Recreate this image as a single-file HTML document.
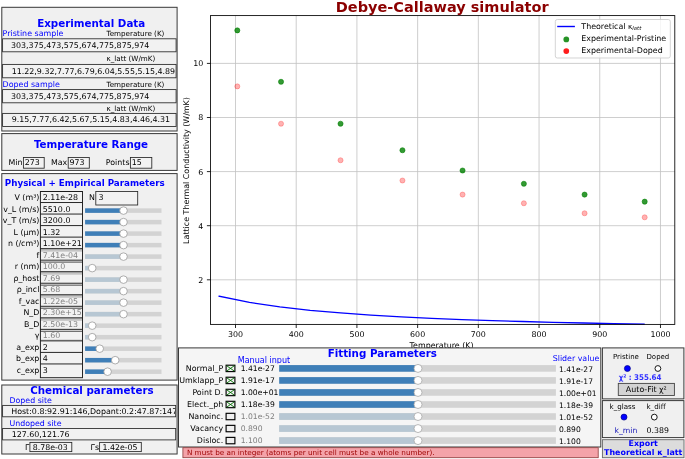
<!DOCTYPE html>
<html lang="en"><head><meta charset="utf-8"><title>Debye-Callaway simulator</title>
<style>
html,body{margin:0;padding:0;background:#fff;overflow:hidden}
svg{display:block;font-family:'DejaVu Sans','Liberation Sans',sans-serif;}
text{white-space:pre}
</style></head><body>
<svg width="685" height="459" viewBox="0 0 685 459" font-family="'DejaVu Sans','Liberation Sans',sans-serif">
<rect x="210.50" y="15.60" width="464.30" height="308.80" fill="#fff" stroke="none" stroke-width="1" />
<line x1="235.50" y1="15.60" x2="235.50" y2="324.40" stroke="#c2c2c2" stroke-width="0.8" />
<line x1="296.21" y1="15.60" x2="296.21" y2="324.40" stroke="#c2c2c2" stroke-width="0.8" />
<line x1="356.92" y1="15.60" x2="356.92" y2="324.40" stroke="#c2c2c2" stroke-width="0.8" />
<line x1="417.63" y1="15.60" x2="417.63" y2="324.40" stroke="#c2c2c2" stroke-width="0.8" />
<line x1="478.34" y1="15.60" x2="478.34" y2="324.40" stroke="#c2c2c2" stroke-width="0.8" />
<line x1="539.05" y1="15.60" x2="539.05" y2="324.40" stroke="#c2c2c2" stroke-width="0.8" />
<line x1="599.76" y1="15.60" x2="599.76" y2="324.40" stroke="#c2c2c2" stroke-width="0.8" />
<line x1="660.47" y1="15.60" x2="660.47" y2="324.40" stroke="#c2c2c2" stroke-width="0.8" />
<line x1="210.50" y1="279.80" x2="674.80" y2="279.80" stroke="#c2c2c2" stroke-width="0.8" />
<line x1="210.50" y1="225.70" x2="674.80" y2="225.70" stroke="#c2c2c2" stroke-width="0.8" />
<line x1="210.50" y1="171.60" x2="674.80" y2="171.60" stroke="#c2c2c2" stroke-width="0.8" />
<line x1="210.50" y1="117.50" x2="674.80" y2="117.50" stroke="#c2c2c2" stroke-width="0.8" />
<line x1="210.50" y1="63.40" x2="674.80" y2="63.40" stroke="#c2c2c2" stroke-width="0.8" />
<polyline points="219.11,296.17 249.46,302.38 279.82,306.88 310.17,310.28 340.53,312.94 370.88,315.08 401.24,316.83 431.59,318.29 461.95,319.53 492.30,320.59 522.66,321.51 553.01,322.31 583.37,323.02 613.72,323.65 644.08,324.21" fill="none" stroke="#0000ff" stroke-width="1.3" stroke-linejoin="round" stroke-linecap="square"/>
<circle cx="237.32" cy="30.40" r="2.55" fill="#008000" stroke="#008000" stroke-width="0.7" fill-opacity="0.8" stroke-opacity="0.8"/>
<circle cx="281.03" cy="81.79" r="2.55" fill="#008000" stroke="#008000" stroke-width="0.7" fill-opacity="0.8" stroke-opacity="0.8"/>
<circle cx="340.53" cy="123.72" r="2.55" fill="#008000" stroke="#008000" stroke-width="0.7" fill-opacity="0.8" stroke-opacity="0.8"/>
<circle cx="402.45" cy="150.23" r="2.55" fill="#008000" stroke="#008000" stroke-width="0.7" fill-opacity="0.8" stroke-opacity="0.8"/>
<circle cx="462.56" cy="170.52" r="2.55" fill="#008000" stroke="#008000" stroke-width="0.7" fill-opacity="0.8" stroke-opacity="0.8"/>
<circle cx="523.87" cy="183.77" r="2.55" fill="#008000" stroke="#008000" stroke-width="0.7" fill-opacity="0.8" stroke-opacity="0.8"/>
<circle cx="584.58" cy="194.59" r="2.55" fill="#008000" stroke="#008000" stroke-width="0.7" fill-opacity="0.8" stroke-opacity="0.8"/>
<circle cx="644.69" cy="201.63" r="2.55" fill="#008000" stroke="#008000" stroke-width="0.7" fill-opacity="0.8" stroke-opacity="0.8"/>
<circle cx="237.32" cy="86.39" r="2.55" fill="#ff0000" stroke="#ff0000" stroke-width="0.8" fill-opacity="0.3" stroke-opacity="0.3"/>
<circle cx="281.03" cy="123.72" r="2.55" fill="#ff0000" stroke="#ff0000" stroke-width="0.8" fill-opacity="0.3" stroke-opacity="0.3"/>
<circle cx="340.53" cy="160.24" r="2.55" fill="#ff0000" stroke="#ff0000" stroke-width="0.8" fill-opacity="0.3" stroke-opacity="0.3"/>
<circle cx="402.45" cy="180.53" r="2.55" fill="#ff0000" stroke="#ff0000" stroke-width="0.8" fill-opacity="0.3" stroke-opacity="0.3"/>
<circle cx="462.56" cy="194.59" r="2.55" fill="#ff0000" stroke="#ff0000" stroke-width="0.8" fill-opacity="0.3" stroke-opacity="0.3"/>
<circle cx="523.87" cy="203.25" r="2.55" fill="#ff0000" stroke="#ff0000" stroke-width="0.8" fill-opacity="0.3" stroke-opacity="0.3"/>
<circle cx="584.58" cy="213.26" r="2.55" fill="#ff0000" stroke="#ff0000" stroke-width="0.8" fill-opacity="0.3" stroke-opacity="0.3"/>
<circle cx="644.69" cy="217.31" r="2.55" fill="#ff0000" stroke="#ff0000" stroke-width="0.8" fill-opacity="0.3" stroke-opacity="0.3"/>
<rect x="210.50" y="15.60" width="464.30" height="308.80" fill="none" stroke="#000" stroke-width="0.85" />
<line x1="235.50" y1="324.40" x2="235.50" y2="328.00" stroke="#000" stroke-width="0.85" />
<text x="235.50" y="337.00" font-size="7.9" fill="#000" text-anchor="middle" >300</text>
<line x1="296.21" y1="324.40" x2="296.21" y2="328.00" stroke="#000" stroke-width="0.85" />
<text x="296.21" y="337.00" font-size="7.9" fill="#000" text-anchor="middle" >400</text>
<line x1="356.92" y1="324.40" x2="356.92" y2="328.00" stroke="#000" stroke-width="0.85" />
<text x="356.92" y="337.00" font-size="7.9" fill="#000" text-anchor="middle" >500</text>
<line x1="417.63" y1="324.40" x2="417.63" y2="328.00" stroke="#000" stroke-width="0.85" />
<text x="417.63" y="337.00" font-size="7.9" fill="#000" text-anchor="middle" >600</text>
<line x1="478.34" y1="324.40" x2="478.34" y2="328.00" stroke="#000" stroke-width="0.85" />
<text x="478.34" y="337.00" font-size="7.9" fill="#000" text-anchor="middle" >700</text>
<line x1="539.05" y1="324.40" x2="539.05" y2="328.00" stroke="#000" stroke-width="0.85" />
<text x="539.05" y="337.00" font-size="7.9" fill="#000" text-anchor="middle" >800</text>
<line x1="599.76" y1="324.40" x2="599.76" y2="328.00" stroke="#000" stroke-width="0.85" />
<text x="599.76" y="337.00" font-size="7.9" fill="#000" text-anchor="middle" >900</text>
<line x1="660.47" y1="324.40" x2="660.47" y2="328.00" stroke="#000" stroke-width="0.85" />
<text x="660.47" y="337.00" font-size="7.9" fill="#000" text-anchor="middle" >1000</text>
<line x1="206.90" y1="279.80" x2="210.50" y2="279.80" stroke="#000" stroke-width="0.85" />
<text x="203.30" y="282.70" font-size="7.9" fill="#000" text-anchor="end" >2</text>
<line x1="206.90" y1="225.70" x2="210.50" y2="225.70" stroke="#000" stroke-width="0.85" />
<text x="203.30" y="228.60" font-size="7.9" fill="#000" text-anchor="end" >4</text>
<line x1="206.90" y1="171.60" x2="210.50" y2="171.60" stroke="#000" stroke-width="0.85" />
<text x="203.30" y="174.50" font-size="7.9" fill="#000" text-anchor="end" >6</text>
<line x1="206.90" y1="117.50" x2="210.50" y2="117.50" stroke="#000" stroke-width="0.85" />
<text x="203.30" y="120.40" font-size="7.9" fill="#000" text-anchor="end" >8</text>
<line x1="206.90" y1="63.40" x2="210.50" y2="63.40" stroke="#000" stroke-width="0.85" />
<text x="203.30" y="66.30" font-size="7.9" fill="#000" text-anchor="end" >10</text>
<text x="442.20" y="11.90" font-size="14.5" fill="#8b0000" font-weight="bold" text-anchor="middle" >Debye-Callaway simulator</text>
<text x="441.60" y="347.90" font-size="7.92" fill="#000" text-anchor="middle" >Temperature (K)</text>
<text transform="translate(189.0,170.5) rotate(-90)" font-size="7.95" text-anchor="middle">Lattice Thermal Conductivity (W/mK)</text>
<rect x="555.30" y="19.50" width="115.00" height="38.50" fill="#fff" stroke="#cccccc" stroke-width="0.85" rx="2" fill-opacity="0.8"/>
<line x1="557.20" y1="26.50" x2="574.90" y2="26.50" stroke="#0000ff" stroke-width="1.4" />
<circle cx="566.30" cy="39.40" r="2.85" fill="#008000" stroke="none" stroke-width="1" fill-opacity="0.85"/>
<circle cx="566.30" cy="51.10" r="2.85" fill="#ff1010" stroke="none" stroke-width="1" fill-opacity="0.95"/>
<text x="581.3" y="29.1" font-size="7.92">Theoretical <tspan font-size="7.4">κ</tspan><tspan font-size="5.3" dy="0.5" font-style="italic">latt</tspan></text>
<text x="581.30" y="40.60" font-size="7.92" fill="#000" >Experimental-Pristine</text>
<text x="581.30" y="52.60" font-size="7.92" fill="#000" >Experimental-Doped</text>
<rect x="1.80" y="7.30" width="175.30" height="123.70" fill="#f0f0f0" stroke="#383838" stroke-width="1.0" />
<text x="37.20" y="27.00" font-size="10.3" fill="#0000ff" font-weight="bold" >Experimental Data</text>
<text x="2.60" y="36.10" font-size="7.93" fill="#0000ff" >Pristine sample</text>
<text x="106.50" y="36.10" font-size="7.17" fill="#000" >Temperature (K)</text>
<rect x="2.60" y="38.80" width="173.50" height="13.00" fill="#f2f2f2" stroke="#262626" stroke-width="0.85" />
<text x="11.00" y="48.00" font-size="7.92" fill="#000" >303,375,473,575,674,775,875,974</text>
<text x="106.50" y="61.00" font-size="7.17" fill="#000" >κ_latt (W/mK)</text>
<clipPath id="c1"><rect x="2.6" y="60" width="173.2" height="70"/></clipPath>
<rect x="2.60" y="64.40" width="173.50" height="13.40" fill="#f2f2f2" stroke="#262626" stroke-width="0.85" />
<text x="11.70" y="73.90" font-size="7.92" fill="#000" clip-path="url(#c1)">11.22,9.32,7.77,6.79,6.04,5.55,5.15,4.89</text>
<text x="2.60" y="87.40" font-size="7.93" fill="#0000ff" >Doped sample</text>
<text x="106.50" y="87.40" font-size="7.17" fill="#000" >Temperature (K)</text>
<rect x="2.60" y="89.60" width="173.50" height="13.20" fill="#f2f2f2" stroke="#262626" stroke-width="0.85" />
<text x="11.00" y="99.10" font-size="7.92" fill="#000" >303,375,473,575,674,775,875,974</text>
<text x="106.50" y="110.80" font-size="7.17" fill="#000" >κ_latt (W/mK)</text>
<rect x="2.60" y="113.40" width="173.50" height="13.10" fill="#f2f2f2" stroke="#262626" stroke-width="0.85" />
<text x="11.70" y="122.00" font-size="7.92" fill="#000" >9.15,7.77,6.42,5.67,5.15,4.83,4.46,4.31</text>
<rect x="1.80" y="133.60" width="175.30" height="36.80" fill="#f0f0f0" stroke="#383838" stroke-width="1.0" />
<text x="33.90" y="147.70" font-size="10.3" fill="#0000ff" font-weight="bold" >Temperature Range</text>
<text x="22.50" y="164.70" font-size="7.9" fill="#000" text-anchor="end" >Min</text>
<rect x="23.40" y="157.50" width="20.80" height="10.70" fill="#f2f2f2" stroke="#262626" stroke-width="0.85" />
<text x="24.70" y="165.20" font-size="7.9" fill="#000" >273</text>
<text x="67.30" y="164.70" font-size="7.9" fill="#000" text-anchor="end" >Max</text>
<rect x="68.20" y="157.50" width="21.10" height="10.70" fill="#f2f2f2" stroke="#262626" stroke-width="0.85" />
<text x="69.50" y="165.20" font-size="7.9" fill="#000" >973</text>
<text x="129.50" y="164.70" font-size="7.9" fill="#000" text-anchor="end" >Points</text>
<rect x="130.40" y="157.50" width="21.40" height="10.70" fill="#f2f2f2" stroke="#262626" stroke-width="0.85" />
<text x="131.70" y="165.20" font-size="7.9" fill="#000" >15</text>
<rect x="1.80" y="173.60" width="175.30" height="206.50" fill="#f0f0f0" stroke="#383838" stroke-width="1.0" />
<text x="4.80" y="185.80" font-size="8.75" fill="#0000ff" font-weight="bold" >Physical + Empirical Parameters</text>
<clipPath id="c3"><rect x="40.4" y="190" width="41.8" height="190"/></clipPath>
<rect x="40.40" y="191.50" width="42.10" height="186.20" fill="#f2f2f2" stroke="none" stroke-width="1" />
<text x="39.40" y="200.00" font-size="7.9" fill="#000" text-anchor="end" >V (m³)</text>
<text x="42.80" y="200.00" font-size="7.9" fill="#000" clip-path="url(#c3)">2.11e-28</text>
<line x1="40.40" y1="191.50" x2="82.50" y2="191.50" stroke="#1c1c1c" stroke-width="0.95" />
<text x="39.40" y="211.53" font-size="7.9" fill="#000" text-anchor="end" >v_L (m/s)</text>
<text x="42.80" y="211.53" font-size="7.9" fill="#000" clip-path="url(#c3)">5510.0</text>
<line x1="40.40" y1="202.53" x2="82.50" y2="202.53" stroke="#1c1c1c" stroke-width="0.95" />
<rect x="85.10" y="208.35" width="76.40" height="4.50" fill="#d3d3d3" stroke="none" stroke-width="1" />
<rect x="85.10" y="208.35" width="38.40" height="4.50" fill="#3f7fb8" stroke="none" stroke-width="1" />
<circle cx="123.50" cy="210.60" r="3.80" fill="#fff" stroke="#9a9a9a" stroke-width="0.8" />
<text x="39.40" y="223.06" font-size="7.9" fill="#000" text-anchor="end" >v_T (m/s)</text>
<text x="42.80" y="223.06" font-size="7.9" fill="#000" clip-path="url(#c3)">3200.0</text>
<line x1="40.40" y1="214.06" x2="82.50" y2="214.06" stroke="#1c1c1c" stroke-width="0.95" />
<rect x="85.10" y="219.86" width="76.40" height="4.50" fill="#d3d3d3" stroke="none" stroke-width="1" />
<rect x="85.10" y="219.86" width="38.40" height="4.50" fill="#3f7fb8" stroke="none" stroke-width="1" />
<circle cx="123.50" cy="222.11" r="3.80" fill="#fff" stroke="#9a9a9a" stroke-width="0.8" />
<text x="39.40" y="234.59" font-size="7.9" fill="#000" text-anchor="end" >L (µm)</text>
<text x="42.80" y="234.59" font-size="7.9" fill="#000" clip-path="url(#c3)">1.32</text>
<line x1="40.40" y1="225.59" x2="82.50" y2="225.59" stroke="#1c1c1c" stroke-width="0.95" />
<rect x="85.10" y="231.36" width="76.40" height="4.50" fill="#d3d3d3" stroke="none" stroke-width="1" />
<rect x="85.10" y="231.36" width="38.40" height="4.50" fill="#3f7fb8" stroke="none" stroke-width="1" />
<circle cx="123.50" cy="233.61" r="3.80" fill="#fff" stroke="#9a9a9a" stroke-width="0.8" />
<text x="39.40" y="246.12" font-size="7.9" fill="#000" text-anchor="end" >n (/cm³)</text>
<text x="42.80" y="246.12" font-size="7.9" fill="#000" clip-path="url(#c3)">1.10e+21</text>
<line x1="40.40" y1="237.12" x2="82.50" y2="237.12" stroke="#1c1c1c" stroke-width="0.95" />
<rect x="85.10" y="242.87" width="76.40" height="4.50" fill="#d3d3d3" stroke="none" stroke-width="1" />
<rect x="85.10" y="242.87" width="38.40" height="4.50" fill="#3f7fb8" stroke="none" stroke-width="1" />
<circle cx="123.50" cy="245.12" r="3.80" fill="#fff" stroke="#9a9a9a" stroke-width="0.8" />
<text x="39.40" y="257.65" font-size="7.9" fill="#000" text-anchor="end" >f</text>
<rect x="40.40" y="248.65" width="42.10" height="3.00" fill="#c4c4c4" stroke="none" stroke-width="1" />
<text x="42.80" y="257.65" font-size="7.9" fill="#808080" clip-path="url(#c3)">7.41e-04</text>
<line x1="40.40" y1="248.65" x2="82.50" y2="248.65" stroke="#1c1c1c" stroke-width="0.95" />
<rect x="85.10" y="254.38" width="76.40" height="4.50" fill="#d3d3d3" stroke="none" stroke-width="1" />
<rect x="85.10" y="254.38" width="38.40" height="4.50" fill="#b7c7d3" stroke="none" stroke-width="1" />
<circle cx="123.50" cy="256.63" r="3.80" fill="#fff" stroke="#9a9a9a" stroke-width="0.8" />
<text x="39.40" y="269.18" font-size="7.9" fill="#000" text-anchor="end" >r (nm)</text>
<rect x="40.40" y="260.18" width="42.10" height="2.00" fill="#f8f8f8" stroke="none" stroke-width="1" />
<line x1="40.40" y1="262.08" x2="82.50" y2="262.08" stroke="#1c1c1c" stroke-width="0.8" />
<text x="42.80" y="269.18" font-size="7.9" fill="#808080" clip-path="url(#c3)">100.0</text>
<line x1="40.40" y1="260.18" x2="82.50" y2="260.18" stroke="#1c1c1c" stroke-width="0.95" />
<rect x="85.10" y="265.88" width="76.40" height="4.50" fill="#d3d3d3" stroke="none" stroke-width="1" />
<rect x="85.10" y="265.88" width="7.10" height="4.50" fill="#b7c7d3" stroke="none" stroke-width="1" />
<circle cx="92.20" cy="268.13" r="3.80" fill="#fff" stroke="#9a9a9a" stroke-width="0.8" />
<text x="39.40" y="280.71" font-size="7.9" fill="#000" text-anchor="end" >ρ_host</text>
<rect x="40.40" y="271.71" width="42.10" height="3.00" fill="#c4c4c4" stroke="none" stroke-width="1" />
<text x="42.80" y="280.71" font-size="7.9" fill="#808080" clip-path="url(#c3)">7.69</text>
<line x1="40.40" y1="271.71" x2="82.50" y2="271.71" stroke="#1c1c1c" stroke-width="0.95" />
<rect x="85.10" y="277.39" width="76.40" height="4.50" fill="#d3d3d3" stroke="none" stroke-width="1" />
<rect x="85.10" y="277.39" width="38.40" height="4.50" fill="#b7c7d3" stroke="none" stroke-width="1" />
<circle cx="123.50" cy="279.64" r="3.80" fill="#fff" stroke="#9a9a9a" stroke-width="0.8" />
<text x="39.40" y="292.24" font-size="7.9" fill="#000" text-anchor="end" >ρ_incl</text>
<rect x="40.40" y="283.24" width="42.10" height="2.00" fill="#f8f8f8" stroke="none" stroke-width="1" />
<line x1="40.40" y1="285.14" x2="82.50" y2="285.14" stroke="#1c1c1c" stroke-width="0.8" />
<text x="42.80" y="292.24" font-size="7.9" fill="#808080" clip-path="url(#c3)">5.68</text>
<line x1="40.40" y1="283.24" x2="82.50" y2="283.24" stroke="#1c1c1c" stroke-width="0.95" />
<rect x="85.10" y="288.90" width="76.40" height="4.50" fill="#d3d3d3" stroke="none" stroke-width="1" />
<rect x="85.10" y="288.90" width="38.40" height="4.50" fill="#b7c7d3" stroke="none" stroke-width="1" />
<circle cx="123.50" cy="291.15" r="3.80" fill="#fff" stroke="#9a9a9a" stroke-width="0.8" />
<text x="39.40" y="303.77" font-size="7.9" fill="#000" text-anchor="end" >f_vac</text>
<rect x="40.40" y="294.77" width="42.10" height="3.00" fill="#c4c4c4" stroke="none" stroke-width="1" />
<text x="42.80" y="303.77" font-size="7.9" fill="#808080" clip-path="url(#c3)">1.22e-05</text>
<line x1="40.40" y1="294.77" x2="82.50" y2="294.77" stroke="#1c1c1c" stroke-width="0.95" />
<rect x="85.10" y="300.41" width="76.40" height="4.50" fill="#d3d3d3" stroke="none" stroke-width="1" />
<rect x="85.10" y="300.41" width="38.40" height="4.50" fill="#b7c7d3" stroke="none" stroke-width="1" />
<circle cx="123.50" cy="302.66" r="3.80" fill="#fff" stroke="#9a9a9a" stroke-width="0.8" />
<text x="39.40" y="315.30" font-size="7.9" fill="#000" text-anchor="end" >N_D</text>
<rect x="40.40" y="306.30" width="42.10" height="2.00" fill="#f8f8f8" stroke="none" stroke-width="1" />
<line x1="40.40" y1="308.20" x2="82.50" y2="308.20" stroke="#1c1c1c" stroke-width="0.8" />
<text x="42.80" y="315.30" font-size="7.9" fill="#808080" clip-path="url(#c3)">2.30e+15</text>
<line x1="40.40" y1="306.30" x2="82.50" y2="306.30" stroke="#1c1c1c" stroke-width="0.95" />
<rect x="85.10" y="311.91" width="76.40" height="4.50" fill="#d3d3d3" stroke="none" stroke-width="1" />
<rect x="85.10" y="311.91" width="38.40" height="4.50" fill="#b7c7d3" stroke="none" stroke-width="1" />
<circle cx="123.50" cy="314.16" r="3.80" fill="#fff" stroke="#9a9a9a" stroke-width="0.8" />
<text x="39.40" y="326.83" font-size="7.9" fill="#000" text-anchor="end" >B_D</text>
<rect x="40.40" y="317.83" width="42.10" height="3.00" fill="#c4c4c4" stroke="none" stroke-width="1" />
<text x="42.80" y="326.83" font-size="7.9" fill="#808080" clip-path="url(#c3)">2.50e-13</text>
<line x1="40.40" y1="317.83" x2="82.50" y2="317.83" stroke="#1c1c1c" stroke-width="0.95" />
<rect x="85.10" y="323.42" width="76.40" height="4.50" fill="#d3d3d3" stroke="none" stroke-width="1" />
<rect x="85.10" y="323.42" width="7.10" height="4.50" fill="#b7c7d3" stroke="none" stroke-width="1" />
<circle cx="92.20" cy="325.67" r="3.80" fill="#fff" stroke="#9a9a9a" stroke-width="0.8" />
<text x="39.40" y="338.36" font-size="7.9" fill="#000" text-anchor="end" >γ</text>
<rect x="40.40" y="329.36" width="42.10" height="2.00" fill="#f8f8f8" stroke="none" stroke-width="1" />
<line x1="40.40" y1="331.26" x2="82.50" y2="331.26" stroke="#1c1c1c" stroke-width="0.8" />
<text x="42.80" y="338.36" font-size="7.9" fill="#808080" clip-path="url(#c3)">1.60</text>
<line x1="40.40" y1="329.36" x2="82.50" y2="329.36" stroke="#1c1c1c" stroke-width="0.95" />
<rect x="85.10" y="334.93" width="76.40" height="4.50" fill="#d3d3d3" stroke="none" stroke-width="1" />
<rect x="85.10" y="334.93" width="7.10" height="4.50" fill="#b7c7d3" stroke="none" stroke-width="1" />
<circle cx="92.20" cy="337.18" r="3.80" fill="#fff" stroke="#9a9a9a" stroke-width="0.8" />
<text x="39.40" y="349.89" font-size="7.9" fill="#000" text-anchor="end" >a_exp</text>
<rect x="40.40" y="339.49" width="42.10" height="1.40" fill="#c6c6c6" stroke="none" stroke-width="1" />
<text x="42.80" y="349.89" font-size="7.9" fill="#000" clip-path="url(#c3)">2</text>
<line x1="40.40" y1="340.89" x2="82.50" y2="340.89" stroke="#1c1c1c" stroke-width="0.95" />
<rect x="85.10" y="346.43" width="76.40" height="4.50" fill="#d3d3d3" stroke="none" stroke-width="1" />
<rect x="85.10" y="346.43" width="14.60" height="4.50" fill="#3f7fb8" stroke="none" stroke-width="1" />
<circle cx="99.70" cy="348.68" r="3.80" fill="#fff" stroke="#9a9a9a" stroke-width="0.8" />
<text x="39.40" y="361.42" font-size="7.9" fill="#000" text-anchor="end" >b_exp</text>
<text x="42.80" y="361.42" font-size="7.9" fill="#000" clip-path="url(#c3)">4</text>
<line x1="40.40" y1="352.42" x2="82.50" y2="352.42" stroke="#1c1c1c" stroke-width="0.95" />
<rect x="85.10" y="357.94" width="76.40" height="4.50" fill="#d3d3d3" stroke="none" stroke-width="1" />
<rect x="85.10" y="357.94" width="30.10" height="4.50" fill="#3f7fb8" stroke="none" stroke-width="1" />
<circle cx="115.20" cy="360.19" r="3.80" fill="#fff" stroke="#9a9a9a" stroke-width="0.8" />
<text x="39.40" y="373.40" font-size="7.9" fill="#000" text-anchor="end" >c_exp</text>
<text x="42.80" y="373.40" font-size="7.9" fill="#000" clip-path="url(#c3)">3</text>
<line x1="40.40" y1="363.95" x2="82.50" y2="363.95" stroke="#1c1c1c" stroke-width="0.95" />
<rect x="85.10" y="369.45" width="76.40" height="4.50" fill="#d3d3d3" stroke="none" stroke-width="1" />
<rect x="85.10" y="369.45" width="22.50" height="4.50" fill="#3f7fb8" stroke="none" stroke-width="1" />
<circle cx="107.60" cy="371.70" r="3.80" fill="#fff" stroke="#9a9a9a" stroke-width="0.8" />
<rect x="40.40" y="191.50" width="42.10" height="186.20" fill="none" stroke="#1c1c1c" stroke-width="0.95" />
<text x="95.00" y="199.90" font-size="7.9" fill="#000" text-anchor="end" >N</text>
<rect x="95.80" y="191.50" width="41.90" height="13.50" fill="#f2f2f2" stroke="#262626" stroke-width="0.85" />
<text x="98.50" y="199.90" font-size="7.92" fill="#000" >3</text>
<rect x="1.80" y="385.00" width="175.30" height="69.00" fill="#f0f0f0" stroke="#383838" stroke-width="1.0" />
<text x="30.20" y="394.30" font-size="10.3" fill="#0000ff" font-weight="bold" >Chemical parameters</text>
<text x="9.50" y="403.00" font-size="7.87" fill="#0000ff" >Doped site</text>
<clipPath id="c4"><rect x="2.6" y="404" width="172.7" height="14"/></clipPath>
<rect x="2.60" y="405.40" width="173.10" height="11.40" fill="#f2f2f2" stroke="#262626" stroke-width="0.85" />
<text x="11.20" y="413.90" font-size="7.92" fill="#000" clip-path="url(#c4)">Host:0.8:92.91:146,Dopant:0.2:47.87:147</text>
<text x="9.50" y="425.90" font-size="7.87" fill="#0000ff" >Undoped site</text>
<rect x="2.60" y="428.50" width="173.10" height="11.40" fill="#f2f2f2" stroke="#262626" stroke-width="0.85" />
<text x="11.70" y="436.80" font-size="7.92" fill="#000" >127.60,121.76</text>
<text x="29.30" y="449.90" font-size="7.9" fill="#000" text-anchor="end" >Γ</text>
<rect x="29.90" y="442.40" width="41.90" height="9.20" fill="#f2f2f2" stroke="#262626" stroke-width="0.85" />
<text x="32.80" y="449.90" font-size="7.84" fill="#000" >8.78e-03</text>
<text x="99.00" y="449.90" font-size="7.9" fill="#000" text-anchor="end" >Γs</text>
<rect x="99.60" y="442.40" width="41.70" height="9.20" fill="#f2f2f2" stroke="#262626" stroke-width="0.85" />
<text x="102.50" y="449.90" font-size="7.84" fill="#000" >1.42e-05</text>
<rect x="178.50" y="347.90" width="422.30" height="99.10" fill="#f5f5f5" stroke="#383838" stroke-width="1.0" />
<text x="327.70" y="357.40" font-size="10.3" fill="#0000ff" font-weight="bold" >Fitting Parameters</text>
<clipPath id="c5"><rect x="230" y="350" width="70" height="13.4"/></clipPath>
<text x="237.70" y="362.80" font-size="8.05" fill="#0000ff" clip-path="url(#c5)">Manual input</text>
<text x="552.70" y="361.40" font-size="7.9" fill="#0000ff" >Slider value</text>
<text x="223.20" y="371.20" font-size="7.93" fill="#000" text-anchor="end" >Normal_P</text>
<rect x="226.10" y="365.20" width="8.80" height="6.40" fill="#f0f0f0" stroke="#000" stroke-width="1.15" />
<line x1="226.60" y1="365.70" x2="234.40" y2="371.10" stroke="#007000" stroke-width="0.9" />
<line x1="226.60" y1="371.10" x2="234.40" y2="365.70" stroke="#007000" stroke-width="0.9" />
<text x="240.70" y="371.20" font-size="7.64" fill="#000" >1.41e-27</text>
<rect x="279.20" y="365.10" width="276.70" height="6.60" fill="#d3d3d3" stroke="none" stroke-width="1" />
<rect x="279.20" y="365.10" width="138.80" height="6.60" fill="#3f7fb8" stroke="none" stroke-width="1" />
<circle cx="418.00" cy="368.40" r="4.00" fill="#fff" stroke="#a8a8a8" stroke-width="0.8" />
<text x="559.00" y="372.00" font-size="7.6" fill="#000" >1.41e-27</text>
<text x="223.20" y="383.23" font-size="7.93" fill="#000" text-anchor="end" >Umklapp_P</text>
<rect x="226.10" y="377.23" width="8.80" height="6.40" fill="#f0f0f0" stroke="#000" stroke-width="1.15" />
<line x1="226.60" y1="377.73" x2="234.40" y2="383.13" stroke="#007000" stroke-width="0.9" />
<line x1="226.60" y1="383.13" x2="234.40" y2="377.73" stroke="#007000" stroke-width="0.9" />
<text x="240.70" y="383.23" font-size="7.64" fill="#000" >1.91e-17</text>
<rect x="279.20" y="377.13" width="276.70" height="6.60" fill="#d3d3d3" stroke="none" stroke-width="1" />
<rect x="279.20" y="377.13" width="138.80" height="6.60" fill="#3f7fb8" stroke="none" stroke-width="1" />
<circle cx="418.00" cy="380.43" r="4.00" fill="#fff" stroke="#a8a8a8" stroke-width="0.8" />
<text x="559.00" y="384.03" font-size="7.6" fill="#000" >1.91e-17</text>
<text x="223.20" y="395.26" font-size="7.93" fill="#000" text-anchor="end" >Point D.</text>
<rect x="226.10" y="389.26" width="8.80" height="6.40" fill="#f0f0f0" stroke="#000" stroke-width="1.15" />
<line x1="226.60" y1="389.76" x2="234.40" y2="395.16" stroke="#007000" stroke-width="0.9" />
<line x1="226.60" y1="395.16" x2="234.40" y2="389.76" stroke="#007000" stroke-width="0.9" />
<text x="240.70" y="395.26" font-size="7.64" fill="#000" >1.00e+01</text>
<rect x="279.20" y="389.16" width="276.70" height="6.60" fill="#d3d3d3" stroke="none" stroke-width="1" />
<rect x="279.20" y="389.16" width="138.80" height="6.60" fill="#3f7fb8" stroke="none" stroke-width="1" />
<circle cx="418.00" cy="392.46" r="4.00" fill="#fff" stroke="#a8a8a8" stroke-width="0.8" />
<text x="559.00" y="396.06" font-size="7.6" fill="#000" >1.00e+01</text>
<text x="223.20" y="407.29" font-size="7.93" fill="#000" text-anchor="end" >Elect._ph</text>
<rect x="226.10" y="401.29" width="8.80" height="6.40" fill="#f0f0f0" stroke="#000" stroke-width="1.15" />
<line x1="226.60" y1="401.79" x2="234.40" y2="407.19" stroke="#007000" stroke-width="0.9" />
<line x1="226.60" y1="407.19" x2="234.40" y2="401.79" stroke="#007000" stroke-width="0.9" />
<text x="240.70" y="407.29" font-size="7.64" fill="#000" >1.18e-39</text>
<rect x="279.20" y="401.19" width="276.70" height="6.60" fill="#d3d3d3" stroke="none" stroke-width="1" />
<rect x="279.20" y="401.19" width="138.80" height="6.60" fill="#3f7fb8" stroke="none" stroke-width="1" />
<circle cx="418.00" cy="404.49" r="4.00" fill="#fff" stroke="#a8a8a8" stroke-width="0.8" />
<text x="559.00" y="408.09" font-size="7.6" fill="#000" >1.18e-39</text>
<text x="223.20" y="419.32" font-size="7.93" fill="#000" text-anchor="end" >Nanoinc.</text>
<rect x="226.10" y="413.32" width="8.80" height="6.40" fill="#f0f0f0" stroke="#000" stroke-width="1.15" />
<text x="240.70" y="419.32" font-size="7.64" fill="#808080" >1.01e-52</text>
<rect x="279.20" y="413.22" width="276.70" height="6.60" fill="#d3d3d3" stroke="none" stroke-width="1" />
<rect x="279.20" y="413.22" width="138.80" height="6.60" fill="#b7c7d3" stroke="none" stroke-width="1" />
<circle cx="418.00" cy="416.52" r="4.00" fill="#fff" stroke="#a8a8a8" stroke-width="0.8" />
<text x="559.00" y="420.12" font-size="7.6" fill="#000" >1.01e-52</text>
<text x="223.20" y="431.35" font-size="7.93" fill="#000" text-anchor="end" >Vacancy</text>
<rect x="226.10" y="425.35" width="8.80" height="6.40" fill="#f0f0f0" stroke="#000" stroke-width="1.15" />
<text x="240.70" y="431.35" font-size="7.64" fill="#808080" >0.890</text>
<rect x="279.20" y="425.25" width="276.70" height="6.60" fill="#d3d3d3" stroke="none" stroke-width="1" />
<rect x="279.20" y="425.25" width="138.80" height="6.60" fill="#b7c7d3" stroke="none" stroke-width="1" />
<circle cx="418.00" cy="428.55" r="4.00" fill="#fff" stroke="#a8a8a8" stroke-width="0.8" />
<text x="559.00" y="432.15" font-size="7.6" fill="#000" >0.890</text>
<text x="223.20" y="443.38" font-size="7.93" fill="#000" text-anchor="end" >Disloc.</text>
<rect x="226.10" y="437.38" width="8.80" height="6.40" fill="#f0f0f0" stroke="#000" stroke-width="1.15" />
<text x="240.70" y="443.38" font-size="7.64" fill="#808080" >1.100</text>
<rect x="279.20" y="437.28" width="276.70" height="6.60" fill="#d3d3d3" stroke="none" stroke-width="1" />
<rect x="279.20" y="437.28" width="138.80" height="6.60" fill="#b7c7d3" stroke="none" stroke-width="1" />
<circle cx="418.00" cy="440.58" r="4.00" fill="#fff" stroke="#a8a8a8" stroke-width="0.8" />
<text x="559.00" y="444.18" font-size="7.6" fill="#000" >1.100</text>
<rect x="182.90" y="447.70" width="415.30" height="10.00" fill="#f4a3a9" stroke="#8b3a3a" stroke-width="0.8" />
<text x="186.90" y="454.70" font-size="7.24" fill="#9c0000" >N must be an integer (atoms per unit cell must be a whole number).</text>
<rect x="602.40" y="347.90" width="81.50" height="51.00" fill="#f0f0f0" stroke="#383838" stroke-width="1.0" />
<text x="613.00" y="358.60" font-size="6.97" fill="#000" >Pristine</text>
<text x="646.50" y="358.60" font-size="6.97" fill="#000" >Doped</text>
<circle cx="627.40" cy="368.50" r="3.00" fill="#0000ff" stroke="#00008b" stroke-width="0.7" />
<circle cx="657.90" cy="368.50" r="2.90" fill="#fff" stroke="#000" stroke-width="0.9" />
<text x="618.70" y="380.30" font-size="7.88" fill="#3030ff" font-weight="bold" font-family="DejaVu Sans Condensed,DejaVu Sans,sans-serif">χ² : 355.64</text>
<rect x="618.30" y="383.40" width="56.10" height="12.10" fill="#d3d3d3" stroke="#444" stroke-width="0.9" />
<text x="646.30" y="392.30" font-size="7.91" fill="#000" text-anchor="middle" >Auto-Fit χ²</text>
<rect x="602.40" y="400.60" width="81.50" height="37.00" fill="#f0f0f0" stroke="#383838" stroke-width="1.0" />
<text x="609.60" y="409.40" font-size="7.1" fill="#000" >k_glass</text>
<text x="646.50" y="409.40" font-size="7.1" fill="#000" >k_diff</text>
<circle cx="624.00" cy="417.10" r="3.00" fill="#0000ff" stroke="#00008b" stroke-width="0.7" />
<circle cx="654.30" cy="417.10" r="2.90" fill="#fff" stroke="#000" stroke-width="0.9" />
<text x="614.50" y="432.90" font-size="7.72" fill="#1a1ab8" >k_min</text>
<text x="646.60" y="432.90" font-size="7.8" fill="#000" >0.389</text>
<rect x="602.40" y="439.70" width="81.60" height="18.00" fill="#dcdcdc" stroke="#666" stroke-width="0.9" />
<text x="643.20" y="446.10" font-size="7.91" fill="#0000ff" font-weight="bold" text-anchor="middle" >Export</text>
<text x="643.20" y="455.20" font-size="7.91" fill="#0000ff" font-weight="bold" text-anchor="middle" >Theoretical κ_latt</text>
</svg>
</body></html>
